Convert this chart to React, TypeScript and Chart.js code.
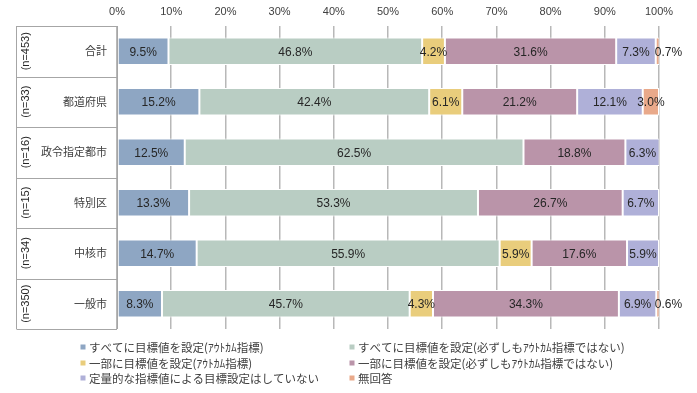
import React, { useEffect, useRef } from "react";
import { Chart, registerables } from "chart.js";

Chart.register(...registerables);

const categories = ["合計", "都道府県", "政令指定都市", "特別区", "中核市", "一般市"];
const sampleSizes = ["(n=453)", "(n=33)", "(n=16)", "(n=15)", "(n=34)", "(n=350)"];
const seriesNames = [
  "すべてに目標値を設定(ｱｳﾄｶﾑ指標)",
  "すべてに目標値を設定(必ずしもｱｳﾄｶﾑ指標ではない)",
  "一部に目標値を設定(ｱｳﾄｶﾑ指標)",
  "一部に目標値を設定(必ずしもｱｳﾄｶﾑ指標ではない)",
  "定量的な指標値による目標設定はしていない",
  "無回答",
];
const allOutcome = [9.5, 15.2, 12.5, 13.3, 14.7, 8.3];
const allNotNecessarily = [46.8, 42.4, 62.5, 53.3, 55.9, 45.7];
const partOutcome = [4.2, 6.1, 0, 0, 5.9, 4.3];
const partNotNecessarily = [31.6, 21.2, 18.8, 26.7, 17.6, 34.3];
const noQuantitative = [7.3, 12.1, 6.3, 6.7, 5.9, 6.9];
const noAnswer = [0.7, 3.0, 0, 0, 0, 0.6];
const seriesColors = ["#8EA6C3", "#B9CDC3", "#E9CD7C", "#BA94A9", "#AFB0D8", "#E9A98A"];

const seriesValues = [allOutcome, allNotNecessarily, partOutcome, partNotNecessarily, noQuantitative, noAnswer];

const LATIN = "'Liberation Sans', Arial, sans-serif";
const CJK = "'Noto Sans CJK JP', sans-serif";

const labelsPlugin = {
  id: "segLabels",
  afterDatasetsDraw(chart: any) {
    const ctx = chart.ctx;
    ctx.save();
    ctx.font = `12px ${LATIN}`;
    ctx.fillStyle = "#262626";
    ctx.textBaseline = "middle";
    ctx.textAlign = "center";
    chart.data.datasets.forEach((ds: any, di: number) => {
      const meta = chart.getDatasetMeta(di);
      meta.data.forEach((el: any, i: number) => {
        const v = ds.data[i];
        if (!v) return;
        const p = el.getProps(["x", "base", "y"], true);
        let x = (p.x + p.base) / 2;
        if (v < 1.5) x = p.x + 9;
        ctx.fillText(v.toFixed(1) + "%", x, p.y + 1);
      });
    });
    ctx.restore();
  },
};

const tablePlugin = {
  id: "leftTable",
  afterDraw(chart: any) {
    const { ctx, chartArea: ca } = chart;
    const yScale = chart.scales.y;
    const left = 16.5;
    const n = categories.length;
    const band = (ca.bottom - ca.top) / n;
    ctx.save();
    ctx.strokeStyle = "#A6A6A6";
    ctx.lineWidth = 1;
    ctx.beginPath();
    ctx.moveTo(left, ca.top);
    ctx.lineTo(left, ca.bottom);
    ctx.moveTo(Math.round(ca.left) + 0.5, ca.top);
    ctx.lineTo(Math.round(ca.left) + 0.5, ca.bottom);
    for (let i = 0; i <= n; i++) {
      const y = Math.round(ca.top + i * band) + 0.5;
      ctx.moveTo(left, y);
      ctx.lineTo(ca.left, y);
    }
    ctx.stroke();
    ctx.font = `11px ${LATIN}`;
    ctx.fillStyle = "#262626";
    ctx.textAlign = "center";
    ctx.textBaseline = "middle";
    sampleSizes.forEach((s, i) => {
      ctx.save();
      ctx.translate(26, yScale.getPixelForValue(i));
      ctx.rotate(-Math.PI / 2);
      ctx.fillText(s, 0, 0);
      ctx.restore();
    });
    ctx.restore();
  },
};

const legendPlugin = {
  id: "gridLegend",
  afterDraw(chart: any) {
    const ctx = chart.ctx;
    const colX = [83, 352];
    const rowY = [347, 363, 378];
    ctx.save();
    ctx.font = `11.5px ${CJK}`;
    ctx.textBaseline = "middle";
    ctx.textAlign = "left";
    chart.data.datasets.forEach((ds: any, i: number) => {
      const x = colX[i % 2];
      const y = rowY[Math.floor(i / 2)];
      ctx.fillStyle = ds.backgroundColor;
      ctx.fillRect(x - 2.5, y - 2.5, 5, 5);
      ctx.fillStyle = "#404040";
      ctx.fillText(ds.label, x + 6, y + 0.5);
    });
    ctx.restore();
  },
};

export default function App() {
  const ref = useRef<HTMLCanvasElement | null>(null);
  useEffect(() => {
    if (!ref.current) return;
    const chart = new Chart(ref.current, {
      type: "bar",
      data: {
        labels: categories,
        datasets: seriesNames.map((name, i) => ({
          label: name,
          data: seriesValues[i],
          backgroundColor: seriesColors[i],
          borderColor: "#FFFFFF",
          borderWidth: 1,
          borderSkipped: false,
          categoryPercentage: 1,
          barPercentage: 0.54,
        })),
      },
      options: {
        indexAxis: "y",
        responsive: false,
        animation: false,
        layout: { padding: { left: 0, right: 38, top: 0, bottom: 64 } },
        plugins: {
          legend: { display: false },
          tooltip: { enabled: false },
        },
        scales: {
          x: {
            position: "top",
            stacked: true,
            min: 0,
            max: 100,
            ticks: {
              stepSize: 10,
              padding: 7,
              color: "#404040",
              font: { size: 11, family: LATIN },
              callback: (v: any) => v + "%",
            },
            grid: { color: "#B8B8B8", lineWidth: 1.5, drawTicks: false },
            border: { display: false },
            afterFit: (s: any) => {
              s.height = 26;
            },
          },
          y: {
            stacked: true,
            ticks: {
              padding: 10,
              color: "#404040",
              font: { size: 11, family: CJK },
            },
            grid: { display: false, drawTicks: false },
            border: { display: false },
            afterFit: (s: any) => {
              s.width = 117;
            },
          },
        },
      } as any,
      plugins: [labelsPlugin, tablePlugin, legendPlugin],
    });
    return () => chart.destroy();
  }, []);
  return (
    <canvas
      ref={ref}
      width={697}
      height={393}
      style={{ position: "absolute", left: 0, top: 0, display: "block" }}
    />
  );
}
